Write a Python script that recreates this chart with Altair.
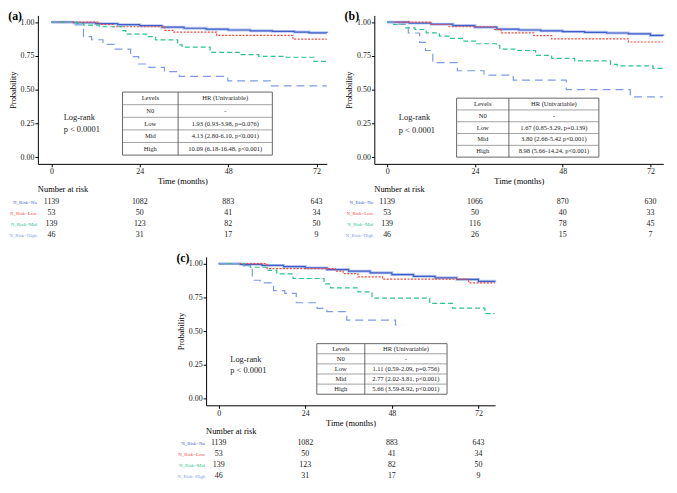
import altair as alt
import pandas as pd

SERIF = "Liberation Serif"

CATS = ["No", "Low", "Mid", "High"]
RISK_LABELS = ["N_Risk=No", "N_Risk=Low", "N_Risk=Mid", "N_Risk=High"]
LINE_COLORS = ["#3f5fc8", "#f5473f", "#2cc38c", "#7f9be4"]
LABEL_COLORS = ["#5b76d4", "#f26b6b", "#38c994", "#8d98e6"]
DASHES = [[1, 0], [2, 1.5], [5, 3], [8, 5]]
RISK_TIMES = [0, 24, 48, 72]
TICKS_X = [0, 24, 48, 72]
TICKS_Y = [0, 0.25, 0.5, 0.75, 1.0]
HR_HEADER = ["Levels", "HR (Univariable)"]
HR_LEVELS = ["N0", "Low", "Mid", "High"]

# ---------------- panel (a) ----------------
A_NO_T = [0, 6, 12, 18, 24, 30, 36, 42, 48, 54, 60, 66, 70, 74.8]
A_NO_P = [1, 0.996, 0.989, 0.982, 0.974, 0.963, 0.955, 0.948, 0.942, 0.936, 0.932, 0.927, 0.921, 0.919]
A_LOW_T = [0, 13.1, 16.7, 30.8, 33, 44.9, 65.6, 74.8]
A_LOW_P = [1, 0.983, 0.966, 0.94, 0.927, 0.902, 0.874, 0.874]
A_MID_T = [0, 6.9, 8.7, 13, 19.3, 20.2, 25.9, 28.3, 34.3, 35.5, 43.1, 51, 56.3, 63.8, 71.3, 74.8]
A_MID_P = [1, 0.99, 0.978, 0.966, 0.937, 0.912, 0.893, 0.869, 0.832, 0.815, 0.776, 0.759, 0.747, 0.74, 0.71, 0.71]
A_HIGH_T = [0, 5.5, 8.7, 10.9, 14, 17, 21.5, 23.7, 26.5, 30.7, 34.7, 47.9, 59.4, 74.8]
A_HIGH_P = [1, 0.98, 0.893, 0.87, 0.836, 0.80, 0.745, 0.69, 0.665, 0.633, 0.598, 0.565, 0.528, 0.528]
A_RISK_NO = [1139, 1082, 883, 643]
A_RISK_LOW = [53, 50, 41, 34]
A_RISK_MID = [139, 123, 82, 50]
A_RISK_HIGH = [46, 31, 17, 9]
A_HR = ["-", "1.93 (0.93-3.98, p=0.076)", "4.13 (2.80-6.10, p<0.001)", "10.09 (6.18-16.48, p<0.001)"]

# ---------------- panel (b) ----------------
B_NO_T = [0, 6, 12, 18, 24, 30, 36, 42, 48, 54, 60, 66, 72, 75.4]
B_NO_P = [1, 0.993, 0.985, 0.975, 0.963, 0.948, 0.942, 0.936, 0.93, 0.925, 0.92, 0.914, 0.902, 0.897]
B_LOW_T = [0, 12, 16.9, 29.4, 31.2, 40.1, 45, 66, 75.4]
B_LOW_P = [1, 0.983, 0.966, 0.946, 0.921, 0.90, 0.877, 0.853, 0.853]
B_MID_T = [0, 1.8, 4.9, 7.6, 10.7, 14.3, 17, 21, 24.5, 29.9, 30.8, 35.2, 40.6, 45, 51.3, 61.1, 62.9, 72.7, 75.4]
B_MID_P = [1, 0.983, 0.958, 0.946, 0.921, 0.897, 0.88, 0.86, 0.84, 0.828, 0.80, 0.79, 0.754, 0.732, 0.713, 0.688, 0.676, 0.658, 0.658]
B_HIGH_T = [0, 2, 5.8, 8.9, 10.5, 12.5, 19.2, 26.5, 34.5, 49, 66.5, 75.4]
B_HIGH_P = [1, 0.985, 0.92, 0.85, 0.79, 0.70, 0.64, 0.607, 0.57, 0.50, 0.447, 0.447]
B_RISK_NO = [1139, 1066, 870, 630]
B_RISK_LOW = [53, 50, 40, 33]
B_RISK_MID = [139, 116, 78, 45]
B_RISK_HIGH = [46, 26, 15, 7]
B_HR = ["-", "1.67 (0.85-3.29, p=0.139)", "3.80 (2.66-5.42 p<0.001)", "8.98 (5.66-14.24, p<0.001)"]

# ---------------- panel (c) ----------------
C_NO_T = [0, 6, 12, 18, 24, 30, 36, 42, 48, 54, 60, 66, 72, 76.5]
C_NO_P = [1, 0.995, 0.987, 0.978, 0.968, 0.956, 0.944, 0.932, 0.919, 0.906, 0.895, 0.883, 0.869, 0.86]
C_LOW_T = [0, 13.4, 32.3, 34.5, 38.6, 45.4, 69.3, 76.5]
C_LOW_P = [1, 0.963, 0.945, 0.926, 0.902, 0.885, 0.857, 0.857]
C_MID_T = [0, 7, 8.8, 13.4, 16.1, 20.6, 29.2, 31, 38.6, 42.5, 58.5, 64.8, 73.8, 76.5]
C_MID_P = [1, 0.985, 0.973, 0.95, 0.924, 0.89, 0.85, 0.82, 0.79, 0.745, 0.705, 0.67, 0.63, 0.63]
C_HIGH_T = [0, 6, 9.3, 11.5, 15.2, 18.3, 21.5, 27.3, 30, 35.5, 49, 50.8]
C_HIGH_P = [1, 0.985, 0.877, 0.857, 0.80, 0.78, 0.71, 0.668, 0.644, 0.582, 0.545, 0.545]
C_RISK_NO = [1139, 1082, 883, 643]
C_RISK_LOW = [53, 50, 41, 34]
C_RISK_MID = [139, 123, 82, 50]
C_RISK_HIGH = [46, 31, 17, 9]
C_HR = ["-", "1.11 (0.59-2.09, p=0.756)", "2.77 (2.02-3.81, p<0.001)", "5.66 (3.59-8.92, p<0.001)"]

# layout (not data): x domains, HR table boxes (months / probability), log-rank text anchor
W, H, RH = 292, 150, 44
A_XDOM, B_XDOM, C_XDOM = [-3.7, 74.8], [-3.5, 75.5], [-3.5, 76.6]
A_TAB = (19.3, 34.4, 60.0, 0.482, 0.015)
B_TAB = (19.0, 33.3, 57.9, 0.437, 0.0)
C_TAB = (27.2, 40.5, 63.3, 0.407, 0.032)
A_LR = (3.3, 0.294, 0.205)
B_LR = (3.2, 0.294, 0.20)
C_LR = (3.2, 0.29, 0.208)
NO_VIEW = alt.ViewBackground(stroke="transparent", strokeWidth=0, fill="transparent")


def km_panel(curves, xdom, tab, hr, lr, title):
    rows = []
    for s, (ts, ps) in zip(CATS, curves):
        for t, p in zip(ts, ps):
            rows.append({"series": s, "t": t, "p": p})
    df = pd.DataFrame(rows)
    xsc = alt.Scale(domain=xdom, nice=False, zero=False)
    ysc = alt.Scale(domain=[-0.05, 1.05], nice=False, zero=False)
    xax = alt.Axis(values=TICKS_X, title="Time (months)", grid=False, tickSize=3,
                   labelFontSize=8, titleFontSize=8.5, labelPadding=1, titlePadding=1,
                   titleFontWeight="normal", domainColor="black", tickColor="black",
                   labelColor="#222", titleColor="black", labelFont=SERIF, titleFont=SERIF)
    yax = alt.Axis(values=TICKS_Y, format=".2f", title="Probability", grid=False, tickSize=3,
                   labelFontSize=8, titleFontSize=8.5, labelPadding=1, titlePadding=3,
                   titleFontWeight="normal", domainColor="black", tickColor="black",
                   labelColor="#222", titleColor="black", labelFont=SERIF, titleFont=SERIF)

    def X(f="t"):
        return alt.X(f"{f}:Q", scale=xsc, axis=xax)

    def Y(f="p"):
        return alt.Y(f"{f}:Q", scale=ysc, axis=yax)

    halo = alt.Chart(df).transform_filter(alt.datum.series == "No").mark_line(
        interpolate="step-after", color="#b9c6ef", strokeWidth=3).encode(x=X(), y=Y())
    lines = alt.Chart(df).mark_line(interpolate="step-after", strokeWidth=1.2).encode(
        x=X(), y=Y(),
        color=alt.Color("series:N", scale=alt.Scale(domain=CATS, range=LINE_COLORS), legend=None),
        strokeDash=alt.StrokeDash("series:N", scale=alt.Scale(domain=CATS, range=DASHES), legend=None),
    )

    x0, xd, x1, ytop, ybot = tab
    rh = (ytop - ybot) / 5
    box = alt.Chart(pd.DataFrame({"t": [x0], "t2": [x1], "p": [ybot], "p2": [ytop]})).mark_rect(
        fill="white", stroke="#555", strokeWidth=0.9).encode(x=X(), x2="t2:Q", y=Y(), y2="p2:Q")
    hlines = alt.Chart(pd.DataFrame({"t": [x0] * 4, "t2": [x1] * 4,
                                     "p": [ybot + k * rh for k in range(1, 5)]})).mark_rule(
        color="#8a8a8a", strokeWidth=0.8).encode(x=X(), x2="t2:Q", y=Y())
    vline = alt.Chart(pd.DataFrame({"t": [xd], "p": [ybot], "p2": [ytop]})).mark_rule(
        color="#555", strokeWidth=0.9).encode(x=X(), y=Y(), y2="p2:Q")
    cells = []
    for r, (lev, txt) in enumerate([tuple(HR_HEADER)] + list(zip(HR_LEVELS, hr))):
        yc = ytop - (r + 0.5) * rh
        cells.append({"t": (x0 + xd) / 2, "p": yc, "txt": lev})
        cells.append({"t": (xd + x1) / 2, "p": yc, "txt": txt})
    ctext = alt.Chart(pd.DataFrame(cells)).mark_text(
        font=SERIF, fontSize=6.6, color="#222", baseline="middle").encode(x=X(), y=Y(), text="txt:N")

    lx, ly1, ly2 = lr
    lrtext = alt.Chart(pd.DataFrame({"t": [lx, lx], "p": [ly1, ly2],
                                     "txt": ["Log-rank", "p < 0.0001"]})).mark_text(
        font=SERIF, fontSize=8.5, align="left", baseline="middle", color="#222").encode(
        x=X(), y=Y(), text="txt:N")

    return alt.layer(halo, lines, box, hlines, vline, ctext, lrtext).properties(
        width=W, height=H, view=NO_VIEW,
        title=alt.TitleParams(title, anchor="start", frame="bounds", font=SERIF, fontSize=12,
                              fontWeight="bold", offset=-8, color="black"),
    )


def risk_panel(risks, xdom):
    rows = []
    for lab, vals in zip(RISK_LABELS, risks):
        for t, n in zip(RISK_TIMES, vals):
            rows.append({"lab": lab, "t": t, "n": n})
    df = pd.DataFrame(rows)
    labs = pd.DataFrame({"lab": RISK_LABELS, "t": [xdom[0]] * len(RISK_LABELS)})
    xe = alt.X("t:Q", scale=alt.Scale(domain=xdom, nice=False, zero=False), axis=None)
    ye = alt.Y("lab:N", sort=RISK_LABELS, scale=alt.Scale(domain=RISK_LABELS, paddingInner=0, paddingOuter=0),
               axis=None)
    nums = alt.Chart(df).mark_text(font=SERIF, fontSize=8, color="#222", baseline="middle").encode(
        x=xe, y=ye, text="n:Q")
    names = alt.Chart(labs).mark_text(font=SERIF, fontSize=5, align="right", baseline="middle", dx=-1).encode(
        x=xe, y=ye, text="lab:N",
        color=alt.Color("lab:N", scale=alt.Scale(domain=RISK_LABELS, range=LABEL_COLORS), legend=None))
    return alt.layer(nums, names).properties(
        width=W, height=RH, view=NO_VIEW,
        title=alt.TitleParams("Number at risk", anchor="start", frame="group", font=SERIF,
                              fontSize=8.5, fontWeight="normal", offset=3, color="black"),
    )


km_a = km_panel([(A_NO_T, A_NO_P), (A_LOW_T, A_LOW_P), (A_MID_T, A_MID_P), (A_HIGH_T, A_HIGH_P)],
                A_XDOM, A_TAB, A_HR, A_LR, "(a)")
km_b = km_panel([(B_NO_T, B_NO_P), (B_LOW_T, B_LOW_P), (B_MID_T, B_MID_P), (B_HIGH_T, B_HIGH_P)],
                B_XDOM, B_TAB, B_HR, B_LR, "(b)")
km_c = km_panel([(C_NO_T, C_NO_P), (C_LOW_T, C_LOW_P), (C_MID_T, C_MID_P), (C_HIGH_T, C_HIGH_P)],
                C_XDOM, C_TAB, C_HR, C_LR, "(c)")
rk_a = risk_panel([A_RISK_NO, A_RISK_LOW, A_RISK_MID, A_RISK_HIGH], A_XDOM)
rk_b = risk_panel([B_RISK_NO, B_RISK_LOW, B_RISK_MID, B_RISK_HIGH], B_XDOM)
rk_c = risk_panel([C_RISK_NO, C_RISK_LOW, C_RISK_MID, C_RISK_HIGH], C_XDOM)

col_a = alt.vconcat(km_a, rk_a, spacing=33, bounds="flush")
col_b = alt.vconcat(km_b, rk_b, spacing=33, bounds="flush")
col_c = alt.vconcat(km_c, rk_c, spacing=33, bounds="flush")
top = alt.hconcat(col_a, col_b, spacing=12)

chart = alt.vconcat(top, col_c, spacing=12, center=True).properties(
    padding=0, background="white"
).configure_view(strokeWidth=0, stroke="transparent").configure(font=SERIF)

chart.save("out.html", embed_options={"renderer": "svg", "actions": False})
